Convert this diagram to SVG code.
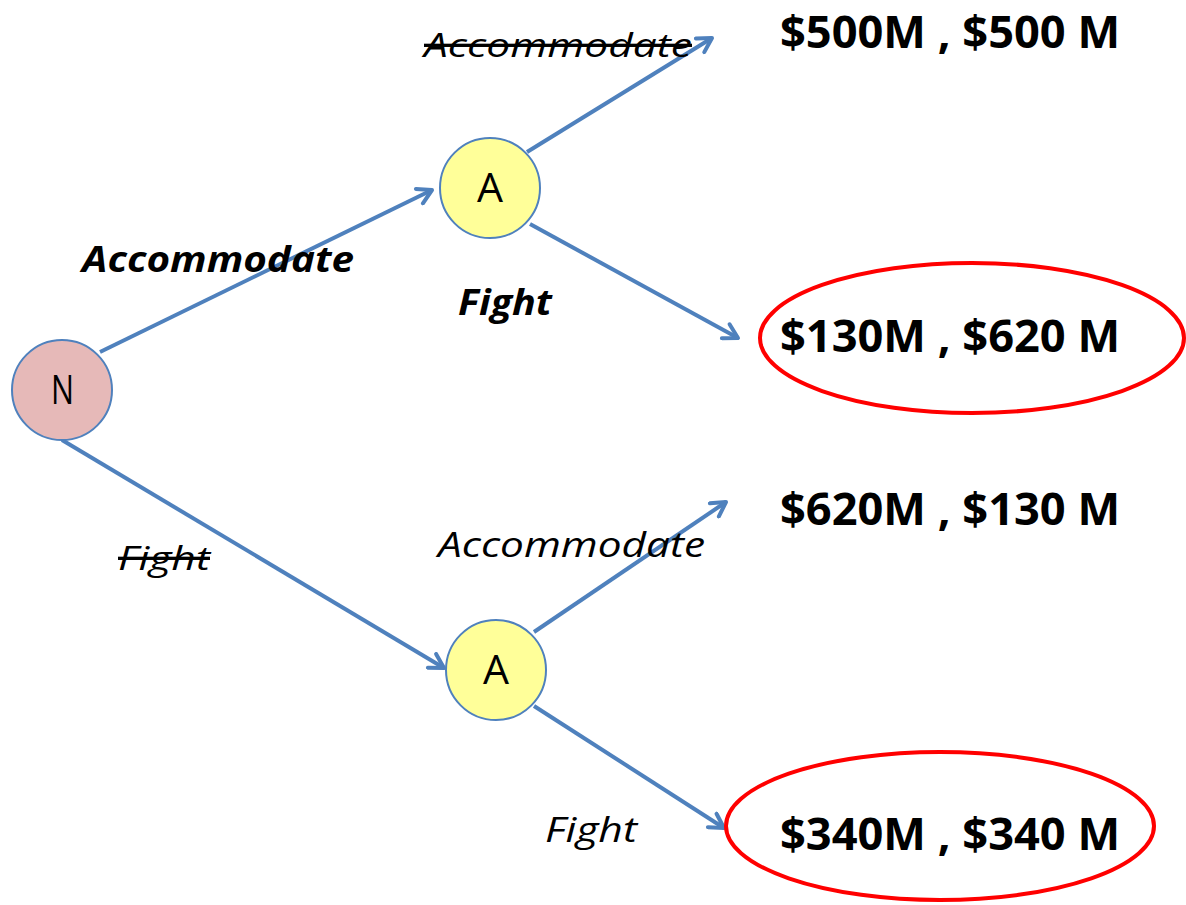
<svg xmlns="http://www.w3.org/2000/svg" width="1186" height="905" viewBox="0 0 1186 905">
<style>
.edge{stroke:#4f81bd;stroke-width:4;fill:none;marker-end:url(#arr)}
.node{stroke:#4f81bd;stroke-width:2}
.lbl{font-family:"Open Sans","Liberation Sans",sans-serif;fill:#000}
.ltr{font-family:"Open Sans","Liberation Sans",sans-serif;fill:#000;font-size:40px}
.pay{font-family:"Open Sans","Liberation Sans",sans-serif;font-weight:bold;font-size:44px;fill:#000}
.ell{fill:none;stroke:#ff0000;stroke-width:4}
</style>
<defs>
<marker id="arr" viewBox="0 0 20 20" markerWidth="20" markerHeight="20" refX="17" refY="10" orient="auto" markerUnits="userSpaceOnUse">
<path d="M3,2 L17,10 L3,18" fill="none" stroke="#4f81bd" stroke-width="4" stroke-linecap="round" stroke-linejoin="round"/>
</marker>
</defs>
<rect width="1186" height="905" fill="#ffffff"/>
<g id="connectors">
<line class="edge" x1="100" y1="352" x2="432" y2="190"/>
<line class="edge" x1="62" y1="440" x2="444" y2="668"/>
<line class="edge" x1="527" y1="152" x2="712" y2="38"/>
<line class="edge" x1="530" y1="224" x2="738" y2="338"/>
<line class="edge" x1="534" y1="632" x2="726" y2="502"/>
<line class="edge" x1="534" y1="706" x2="724" y2="828"/>
</g>
<g id="node-N">
<circle class="node" cx="62" cy="390" r="50" fill="#e6b9b8"/>
<text class="ltr" x="51" y="404" textLength="23" lengthAdjust="spacingAndGlyphs">N</text>
</g>
<g id="node-A1">
<circle class="node" cx="490" cy="188" r="50" fill="#ffff99"/>
<text class="ltr" x="477" y="202" textLength="26" lengthAdjust="spacingAndGlyphs">A</text>
</g>
<g id="node-A2">
<circle class="node" cx="496" cy="670" r="50" fill="#ffff99"/>
<text class="ltr" x="483" y="684" textLength="26" lengthAdjust="spacingAndGlyphs">A</text>
</g>
<g id="labels">
<text class="lbl" x="424" y="57" font-size="33" font-style="italic" text-decoration="line-through" textLength="268" lengthAdjust="spacingAndGlyphs">Accommodate</text>
<text class="lbl" x="82" y="272" font-size="35" font-style="italic" font-weight="bold" textLength="272" lengthAdjust="spacingAndGlyphs">Accommodate</text>
<text class="lbl" x="458" y="315" font-size="35" font-style="italic" font-weight="bold" textLength="94" lengthAdjust="spacingAndGlyphs">Fight</text>
<text class="lbl" x="118" y="570" font-size="33" font-style="italic" text-decoration="line-through" textLength="92" lengthAdjust="spacingAndGlyphs">Fight</text>
<text class="lbl" x="438" y="557" font-size="35" font-style="italic" textLength="267" lengthAdjust="spacingAndGlyphs">Accommodate</text>
<text class="lbl" x="545" y="842" font-size="35" font-style="italic" textLength="92" lengthAdjust="spacingAndGlyphs">Fight</text>
</g>
<g id="payoff-1">
<text class="pay" x="780" y="48" textLength="340" lengthAdjust="spacingAndGlyphs">$500M , $500 M</text>
</g>
<g id="payoff-2">
<ellipse class="ell" cx="972" cy="338" rx="212" ry="75"/>
<text class="pay" x="780" y="352" textLength="340" lengthAdjust="spacingAndGlyphs">$130M , $620 M</text>
</g>
<g id="payoff-3">
<text class="pay" x="780" y="525" textLength="340" lengthAdjust="spacingAndGlyphs">$620M , $130 M</text>
</g>
<g id="payoff-4">
<ellipse class="ell" cx="940" cy="826" rx="214" ry="74"/>
<text class="pay" x="780" y="850" textLength="340" lengthAdjust="spacingAndGlyphs">$340M , $340 M</text>
</g>
</svg>
